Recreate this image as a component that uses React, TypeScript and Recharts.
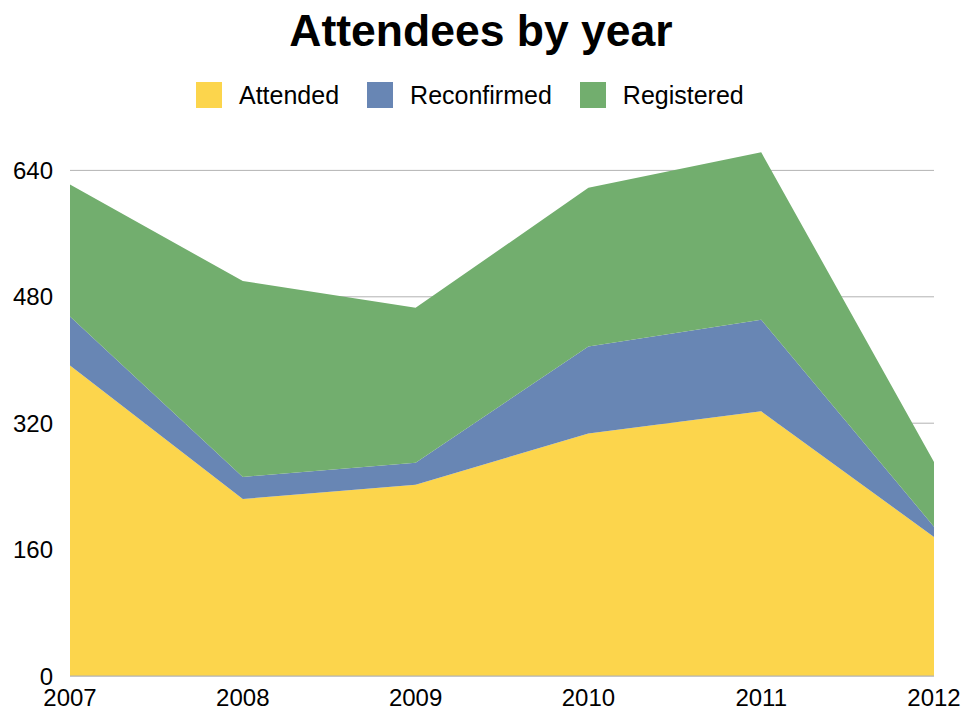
import React from 'react';
import { AreaChart, Area, XAxis, YAxis, CartesianGrid } from 'recharts';

const years = ['2007', '2008', '2009', '2010', '2011', '2012'];
const attended = [393, 224, 242, 307, 335, 176];
const reconfirmed = [62, 28, 28, 110, 116, 13];
const registered = [167, 248, 196, 201, 212, 82];
const yTicks = [0, 160, 320, 480, 640];

const seriesNames = ['Attended', 'Reconfirmed', 'Registered'];
const seriesColors = ['#FCD54C', '#6886B4', '#72AE6E'];

const data = years.map((year, i) => ({
  year,
  Attended: attended[i],
  Reconfirmed: reconfirmed[i],
  Registered: registered[i],
}));

const FONT = '"Liberation Sans", Arial, Helvetica, sans-serif';

export default function App() {
  return (
    <div style={{ position: 'absolute', left: 0, top: 0, width: 965, height: 711, background: '#fff', fontFamily: FONT }}>
      <div style={{ position: 'absolute', left: 0, top: 4, width: 962, textAlign: 'center', fontSize: 44.5, fontWeight: 'bold', color: '#000', lineHeight: '54px' }}>
        Attendees by year
      </div>
      <div style={{ position: 'absolute', left: 196, top: 81, display: 'flex', alignItems: 'center' }}>
        {seriesNames.map((name, i) => (
          <div key={name} style={{ display: 'flex', alignItems: 'center', marginRight: i < seriesNames.length - 1 ? 28 : 0 }}>
            <div style={{ width: 26, height: 26, background: seriesColors[i], marginRight: 17 }} />
            <span style={{ fontSize: 25, color: '#000', lineHeight: '28px' }}>{name}</span>
          </div>
        ))}
      </div>
      <div style={{ position: 'absolute', left: 0, top: 0 }}>
        <AreaChart width={965} height={711} data={data} margin={{ top: 123, right: 31, left: 0, bottom: 0 }}>
          <CartesianGrid vertical={false} stroke="#b3b3b3" horizontalValues={yTicks} />
          <XAxis
            dataKey="year"
            height={35}
            tickLine={false}
            tickSize={0}
            tickMargin={13}
            axisLine={{ stroke: '#b3b3b3' }}
            tick={{ fontSize: 24, fill: '#000', fontFamily: FONT }}
            interval={0}
          />
          <YAxis
            width={70}
            domain={[0, 700]}
            ticks={yTicks}
            tickLine={false}
            tickSize={0}
            tickMargin={17}
            axisLine={false}
            tick={{ fontSize: 24, fill: '#000', fontFamily: FONT }}
            interval={0}
          />
          {seriesNames.map((name, i) => (
            <Area
              key={name}
              type="linear"
              dataKey={name}
              stackId="1"
              stroke="none"
              fill={seriesColors[i]}
              fillOpacity={1}
              isAnimationActive={false}
              dot={false}
              activeDot={false}
            />
          ))}
        </AreaChart>
      </div>
    </div>
  );
}
